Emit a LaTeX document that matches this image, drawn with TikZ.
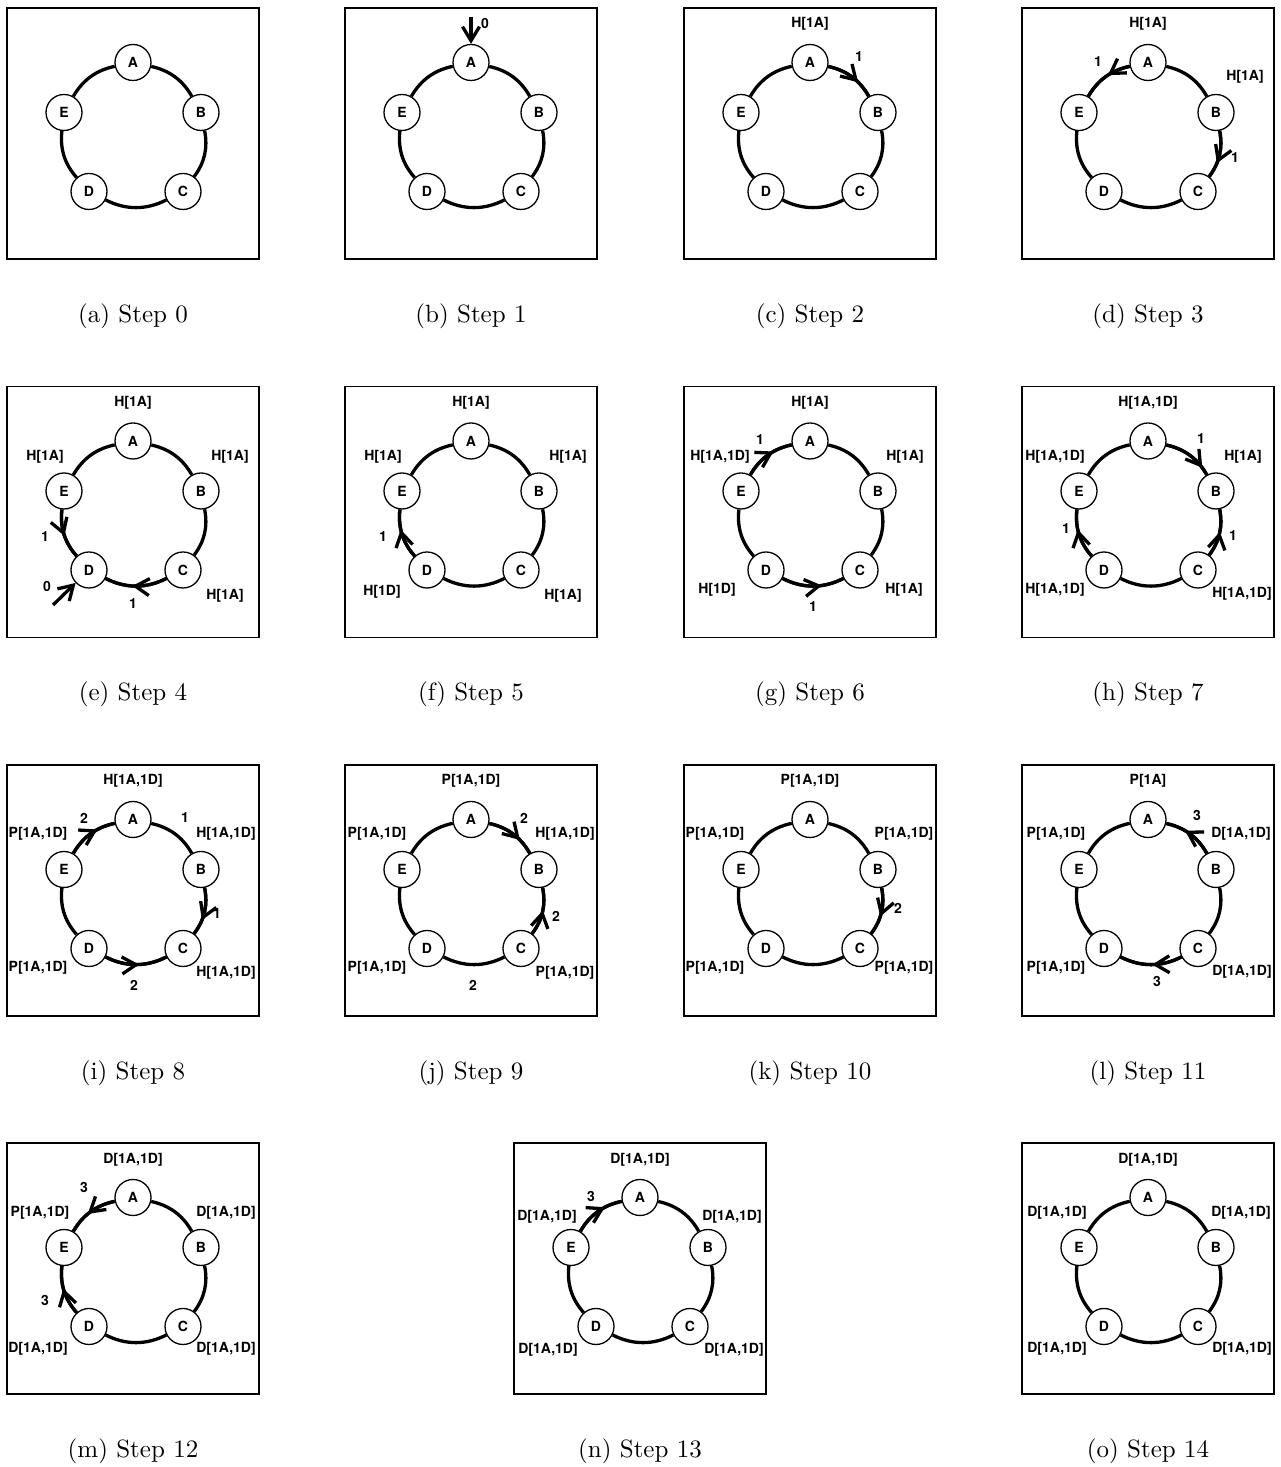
\documentclass[tikz,border=0pt]{standalone}
\usepackage{fontspec}
\newfontfamily\helv{TeX Gyre Heros}
\newfontfamily\capfont{lmroman10-regular}[Extension=.otf]
\usetikzlibrary{arrows.meta,decorations.markings}

\tikzset{
  panel/.style={draw,line width=1.6pt},
  proc/.style={circle,draw,fill=white,line width=1.3pt,minimum size=36pt,inner sep=0pt,
    font=\helv\bfseries\fontsize{14}{16}\selectfont},
  ring/.style={line width=3.3pt,looseness=0.95},
  msg/.style={ring,postaction={decorate,decoration={markings,
    mark=at position #1 with {\arrow{Straight Barb[length=14pt,width=17pt]}}}}},
  msg/.default=0.58,
  ext/.style={ring,-{Straight Barb[length=14pt,width=17pt]}},
  info/.style={font=\helv\bfseries\fontsize{14}{16}\selectfont,inner sep=0pt},
  subcap/.style={font=\capfont\fontsize{25}{30}\selectfont,inner sep=0pt}
}

% one box: frame, the five processes, the ring and the caption
\newcommand{\ringpanel}[2]{%
  \draw[panel] (-126,-125.5) rectangle (126,125.5);
  \node[proc] (#1A) at (0,71) {A};
  \node[proc] (#1B) at (68,21) {B};
  \node[proc] (#1C) at (50,-58) {C};
  \node[proc] (#1D) at (-44,-58) {D};
  \node[proc] (#1E) at (-69,21) {E};
  \draw[ring] (#1A) to[bend left=24] (#1B);
  \draw[ring] (#1B) to[bend left=24] (#1C);
  \draw[ring] (#1C) to[bend left=27] (#1D);
  \draw[ring] (#1D) to[bend left=24] (#1E);
  \draw[ring] (#1E) to[bend left=24] (#1A);
  \node[subcap] (#1cap) at (0,-182.5) {#2};
}

\begin{document}
\begin{tikzpicture}[x=1pt,y=1pt]
\useasboundingbox (0,0) rectangle (1280,1467);

% row 1
\begin{scope}[shift={(133,1333.5)}]
\ringpanel{a}{(a) Step 0}
\end{scope}

\begin{scope}[shift={(471,1333.5)}]
\ringpanel{b}{(b) Step 1}
\coordinate (bin) at (0,116);
\draw[ext] (bin) -- (bA);
\node[info] (bn1) at (14,109.5) {0};
\end{scope}

\begin{scope}[shift={(810,1333.5)}]
\ringpanel{c}{(c) Step 2}
\node[info] (ctA) at (0,109.5) {H[1A]};
\draw[msg=0.66] (cA) to[bend left=24] (cB);
\node[info] (cn1) at (49,76.5) {1};
\end{scope}

\begin{scope}[shift={(1148,1333.5)}]
\ringpanel{d}{(d) Step 3}
\node[info] (dtA) at (0,109.5) {H[1A]};
\node[info] (dtB) at (97,56.5) {H[1A]};
\draw[msg=0.45] (dA) to[bend right=24] (dE);
\node[info] (dn1) at (-50,71.5) {1};
\draw[msg=0.68] (dB) to[bend left=24] (dC);
\node[info] (dn2) at (87,-24.5) {1};
\end{scope}

% row 2
\begin{scope}[shift={(133,955)}]
\ringpanel{e}{(e) Step 4}
\node[info] (etA) at (0,109) {H[1A]};
\node[info] (etE) at (-88,55) {H[1A]};
\node[info] (etB) at (97,55) {H[1A]};
\node[info] (etC) at (92,-84) {H[1A]};
\draw[msg=0.53] (eE) to[bend right=24] (eD);
\node[info] (en1) at (-88,-25) {1};
\draw[msg=0.56] (eC) to[bend left=27] (eD);
\node[info] (en2) at (0,-92) {1};
\coordinate (ein) at (-80,-93);
\draw[ext] (ein) -- (eD);
\node[info] (en0) at (-86,-75) {0};
\end{scope}

\begin{scope}[shift={(471,955)}]
\ringpanel{f}{(f) Step 5}
\node[info] (ftA) at (0,109) {H[1A]};
\node[info] (ftE) at (-88,55) {H[1A]};
\node[info] (ftB) at (97,55) {H[1A]};
\node[info] (ftD) at (-89,-80) {H[1D]};
\node[info] (ftC) at (92,-84) {H[1A]};
\draw[msg=0.60] (fD) to[bend left=24] (fE);
\node[info] (fn1) at (-88,-25) {1};
\end{scope}

\begin{scope}[shift={(810,955)}]
\ringpanel{g}{(g) Step 6}
\node[info] (gtA) at (0,109) {H[1A]};
\node[info] (gtE) at (-90,55) {H[1A,1D]};
\node[info] (gtB) at (95,55) {H[1A]};
\node[info] (gtD) at (-93,-78) {H[1D]};
\node[info] (gtC) at (94,-78) {H[1A]};
\draw[msg=0.63] (gE) to[bend left=24] (gA);
\node[info] (gn1) at (-50,72) {1};
\draw[msg=0.64] (gD) to[bend right=27] (gC);
\node[info] (gn2) at (3,-95) {1};
\end{scope}

\begin{scope}[shift={(1148,955)}]
\ringpanel{h}{(h) Step 7}
\node[info] (htA) at (0,109) {H[1A,1D]};
\node[info] (htE) at (-93,55) {H[1A,1D]};
\node[info] (htB) at (95,55) {H[1A]};
\node[info] (htD) at (-93,-78) {H[1A,1D]};
\node[info] (htC) at (94,-82) {H[1A,1D]};
\draw[msg=0.84] (hA) to[bend left=24] (hB);
\node[info] (hn1) at (53,73) {1};
\draw[msg=0.60] (hD) to[bend left=24] (hE);
\node[info] (hn2) at (-82,-17) {1};
\draw[msg=0.53] (hC) to[bend right=24] (hB);
\node[info] (hn3) at (85,-24) {1};
\end{scope}

% row 3
\begin{scope}[shift={(133,576.5)}]
\ringpanel{i}{(i) Step 8}
\node[info] (itA) at (0,109.5) {H[1A,1D]};
\node[info] (itE) at (-95,56.5) {P[1A,1D]};
\node[info] (itB) at (93,56.5) {H[1A,1D]};
\node[info] (itD) at (-95,-77.5) {P[1A,1D]};
\node[info] (itC) at (93,-82.5) {H[1A,1D]};
\draw[msg=0.65] (iE) to[bend left=24] (iA);
\node[info] (in1) at (-49,72.5) {2};
\node[info] (in2) at (52,72.5) {1};
\draw[msg=0.68] (iB) to[bend left=24] (iC);
\node[info] (in3) at (84,-23.5) {1};
\draw[msg=0.55] (iD) to[bend right=27] (iC);
\node[info] (in4) at (1,-94.5) {2};
\end{scope}

\begin{scope}[shift={(471,576.5)}]
\ringpanel{j}{(j) Step 9}
\node[info] (jtA) at (0,109.5) {P[1A,1D]};
\node[info] (jtE) at (-94,56.5) {P[1A,1D]};
\node[info] (jtB) at (94,56.5) {H[1A,1D]};
\node[info] (jtD) at (-94,-77.5) {P[1A,1D]};
\node[info] (jtC) at (94,-82.5) {P[1A,1D]};
\draw[msg=0.68] (jA) to[bend left=24] (jB);
\node[info] (jn1) at (53,72.5) {2};
\draw[msg=0.53] (jC) to[bend right=24] (jB);
\node[info] (jn2) at (85,-25.5) {2};
\node[info] (jn3) at (2,-94.5) {2};
\end{scope}

\begin{scope}[shift={(810,576.5)}]
\ringpanel{k}{(k) Step 10}
\node[info] (ktA) at (0,109.5) {P[1A,1D]};
\node[info] (ktE) at (-95,56.5) {P[1A,1D]};
\node[info] (ktB) at (94,56.5) {P[1A,1D]};
\node[info] (ktD) at (-95,-77.5) {P[1A,1D]};
\node[info] (ktC) at (94,-77.5) {P[1A,1D]};
\draw[msg=0.60] (kB) to[bend left=24] (kC);
\node[info] (kn1) at (88,-17.5) {2};
\end{scope}

\begin{scope}[shift={(1148,576.5)}]
\ringpanel{l}{(l) Step 11}
\node[info] (ltA) at (0,109.5) {P[1A]};
\node[info] (ltE) at (-92,56.5) {P[1A,1D]};
\node[info] (ltB) at (93,56.5) {D[1A,1D]};
\node[info] (ltD) at (-92,-77.5) {P[1A,1D]};
\node[info] (ltC) at (94,-81.5) {D[1A,1D]};
\draw[msg=0.61] (lB) to[bend right=24] (lA);
\node[info] (ln1) at (49,74.5) {3};
\draw[msg=0.48] (lC) to[bend left=27] (lD);
\node[info] (ln2) at (9,-91.5) {3};
\end{scope}

% row 4
\begin{scope}[shift={(133,198.5)}]
\ringpanel{m}{(m) Step 12}
\node[info] (mtA) at (0,108.5) {D[1A,1D]};
\node[info] (mtE) at (-93,55.5) {P[1A,1D]};
\node[info] (mtB) at (93,55.5) {D[1A,1D]};
\node[info] (mtD) at (-95,-80.5) {D[1A,1D]};
\node[info] (mtC) at (93,-80.5) {D[1A,1D]};
\draw[msg=0.57] (mA) to[bend right=24] (mE);
\node[info] (mn1) at (-49,81.5) {3};
\draw[msg=0.55] (mD) to[bend left=24] (mE);
\node[info] (mn2) at (-88,-31.5) {3};
\end{scope}

\begin{scope}[shift={(640,198.5)}]
\ringpanel{n}{(n) Step 13}
\node[info] (ntA) at (0,108.5) {D[1A,1D]};
\node[info] (ntE) at (-93,51.5) {D[1A,1D]};
\node[info] (ntB) at (92,51.5) {D[1A,1D]};
\node[info] (ntD) at (-92,-81.5) {D[1A,1D]};
\node[info] (ntC) at (94,-81.5) {D[1A,1D]};
\draw[msg=0.66] (nE) to[bend left=24] (nA);
\node[info] (nn1) at (-49,72.5) {3};
\end{scope}

\begin{scope}[shift={(1148,198.5)}]
\ringpanel{o}{(o) Step 14}
\node[info] (otA) at (0,108.5) {D[1A,1D]};
\node[info] (otE) at (-91,55.5) {D[1A,1D]};
\node[info] (otB) at (93,55.5) {D[1A,1D]};
\node[info] (otD) at (-91,-80.5) {D[1A,1D]};
\node[info] (otC) at (94,-80.5) {D[1A,1D]};
\end{scope}

\end{tikzpicture}
\end{document}
